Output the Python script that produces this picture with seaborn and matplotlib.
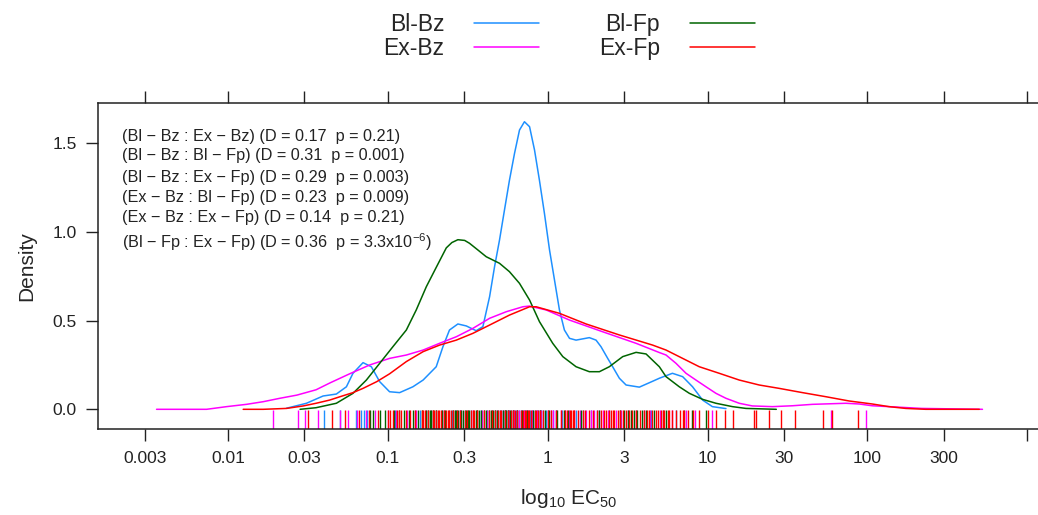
import numpy as np
import pandas as pd
import seaborn as sns
import matplotlib.pyplot as plt

sns.set_style("ticks")
plt.rcParams["font.family"] = ["Liberation Sans", "DejaVu Sans"]
plt.rcParams["mathtext.fontset"] = "custom"
plt.rcParams["mathtext.rm"] = "Liberation Sans"
plt.rcParams["mathtext.it"] = "Liberation Sans"

groups = ["Bl-Bz", "Ex-Bz", "Bl-Fp", "Ex-Fp"]
colors = {"Bl-Bz": "#1E90FF", "Ex-Bz": "#FF00FF", "Bl-Fp": "#006400", "Ex-Fp": "#FF0000"}

# density curves, x in log10 EC50
blbz_x = [-1.635, -1.51, -1.406, -1.323, -1.26, -1.219, -1.156, -1.104, -1.052, -0.99, -0.927, -0.844,
          -0.78, -0.698, -0.656, -0.615, -0.5625, -0.51, -0.448, -0.406, -0.364, -0.333, -0.302, -0.271,
          -0.24, -0.208, -0.177, -0.146, -0.114, -0.083, -0.052, -0.021, 0.011, 0.042, 0.073, 0.104,
          0.136, 0.177, 0.26, 0.302, 0.333, 0.375, 0.406, 0.448, 0.49, 0.573, 0.656, 0.698, 0.78,
          0.844, 0.906, 0.969, 1.03, 1.115]
blbz_y = [0.006, 0.034, 0.075, 0.086, 0.127, 0.203, 0.263, 0.24, 0.156, 0.099, 0.094, 0.127,
          0.165, 0.24, 0.353, 0.447, 0.481, 0.47, 0.443, 0.466, 0.635, 0.804, 0.954, 1.123,
          1.29, 1.443, 1.574, 1.621, 1.593, 1.462, 1.29, 1.105, 0.898, 0.729, 0.56, 0.447,
          0.40, 0.39, 0.404, 0.39, 0.353, 0.287, 0.24, 0.175, 0.137, 0.125, 0.158, 0.175, 0.203,
          0.184, 0.127, 0.052, 0.015, 0.004]

blfp_x = [-1.55, -1.45, -1.323, -1.219, -1.135, -1.052, -0.969, -0.885, -0.823, -0.76, -0.698, -0.635,
          -0.60, -0.5625, -0.52, -0.49, -0.44, -0.385, -0.302, -0.24, -0.177, -0.114, -0.052, 0.031,
          0.094, 0.177, 0.26, 0.323, 0.385, 0.469, 0.5525, 0.615, 0.698, 0.74, 0.823, 0.886, 0.969,
          1.0525, 1.156, 1.24, 1.43]
blfp_y = [0.0, 0.009, 0.034, 0.09, 0.165, 0.259, 0.353, 0.447, 0.56, 0.691, 0.80, 0.91,
          0.94, 0.956, 0.952, 0.936, 0.90, 0.86, 0.823, 0.776, 0.71, 0.616, 0.494, 0.372,
          0.297, 0.24, 0.212, 0.212, 0.24, 0.297, 0.321, 0.312, 0.24, 0.184, 0.127, 0.09, 0.056,
          0.034, 0.015, 0.005, 0.0]

exbz_x = [-2.448, -2.135, -2.01, -1.885, -1.78, -1.677, -1.57, -1.45, -1.36, -1.24, -1.114, -0.99,
          -0.885, -0.78, -0.677, -0.5725, -0.469, -0.364, -0.26, -0.156, -0.114, -0.01, 0.136, 0.344,
          0.5525, 0.698, 0.74, 0.8025, 0.865, 0.927, 0.99, 1.0525, 1.115, 1.198, 1.28, 1.406, 1.531,
          1.656, 1.865, 1.948, 2.03, 2.135, 2.34, 2.72]
exbz_y = [0.0, 0.0, 0.015, 0.028, 0.043, 0.062, 0.08, 0.11, 0.15, 0.2, 0.25, 0.287,
          0.306, 0.334, 0.372, 0.409, 0.456, 0.513, 0.55, 0.578, 0.582, 0.56, 0.503, 0.437,
          0.372, 0.32, 0.306, 0.259, 0.203, 0.165, 0.127, 0.09, 0.062, 0.034, 0.019, 0.015, 0.02,
          0.028, 0.034, 0.03, 0.02, 0.015, 0.005, 0.0]

exfp_x = [-1.906, -1.78, -1.635, -1.53, -1.45, -1.365, -1.30, -1.219, -1.156, -1.07, -0.99, -0.885,
          -0.78, -0.677, -0.5725, -0.469, -0.364, -0.24, -0.114, -0.0725, 0.073, 0.24, 0.448, 0.656,
          0.74, 0.844, 0.948, 1.073, 1.198, 1.323, 1.448, 1.594, 1.74, 1.885, 2.03, 2.135, 2.24,
          2.365, 2.70]
exfp_y = [0.0, 0.0, 0.005, 0.019, 0.034, 0.052, 0.071, 0.094, 0.118, 0.156, 0.2, 0.269,
          0.325, 0.362, 0.39, 0.428, 0.475, 0.531, 0.578, 0.578, 0.541, 0.481, 0.419, 0.362,
          0.334, 0.287, 0.24, 0.203, 0.165, 0.137, 0.118, 0.094, 0.071, 0.047, 0.03, 0.015, 0.005,
          0.0, 0.0]

# rug values (log10 EC50)
blbz_rug = [-1.40, -1.30, -1.202, -1.17, -1.15, -1.13, -0.958, -0.80, -0.70, -0.66, -0.62, -0.60,
            -0.566, -0.55, -0.52, -0.48, -0.416, -0.38, -0.35, -0.33, -0.31, -0.30, -0.29, -0.28,
            -0.27, -0.26, -0.25, -0.24, -0.23, -0.22, -0.21, -0.20, -0.19, -0.18, -0.17, -0.16, -0.15,
            -0.14, -0.13, -0.12, -0.11, -0.10, -0.09, -0.08, -0.07, -0.06, -0.05, -0.04, -0.03, -0.01,
            0.0, 0.03, 0.052, 0.09, 0.177, 0.22, 0.27, 0.31, 0.385, 0.646, 0.72, 0.80, 0.85]
exbz_rug = [-1.719, -1.5625, -1.521, -1.4375, -1.302, -1.25, -1.191, -1.135, -1.08, -1.00, -0.95, -0.88,
            -0.83, -0.8225, -0.76, -0.73, -0.65, -0.58, -0.55, -0.54, -0.50, -0.47, -0.445, -0.41,
            -0.38, -0.35, -0.32, -0.28, -0.24, -0.21, -0.195, -0.18, -0.15, -0.13, -0.10, -0.07,
            -0.04, 0.0, 0.02, 0.03, 0.05, 0.08, 0.11, 0.13, 0.167, 0.20, 0.24, 0.27, 0.29, 0.32, 0.344,
            0.375, 0.43, 0.46, 0.50, 0.55, 0.60, 0.64, 0.70, 0.78, 0.865, 0.92, 1.03, 1.77, 1.99]
blfp_rug = [-1.114, -1.094, -1.052, -1.021, -0.96, -0.93, -0.902, -0.87, -0.844, -0.81, -0.79, -0.765,
            -0.75, -0.74, -0.73, -0.72, -0.70, -0.66, -0.645, -0.59, -0.58, -0.572, -0.56, -0.54,
            -0.53, -0.51, -0.50, -0.49, -0.452, -0.44, -0.43, -0.42, -0.40, -0.385, -0.37, -0.355,
            -0.345, -0.333, -0.32, -0.28, -0.27, -0.26, -0.25, -0.235, -0.22, -0.19, -0.16, -0.13,
            -0.09, -0.05, -0.02, 0.01, 0.06, 0.10, 0.125, 0.21, 0.323, 0.45, 0.48, 0.50, 0.52, 0.54,
            0.56, 0.59, 0.615, 0.667, 0.74, 0.90, 0.99]
exfp_rug = [-1.50, -1.35, -1.27, -1.18, -1.12, -1.06, -1.00, -0.985, -0.97, -0.944, -0.93, -0.916,
            -0.885, -0.86, -0.83, -0.79, -0.78, -0.77, -0.75, -0.72, -0.71, -0.70, -0.69, -0.68,
            -0.67, -0.65, -0.635, -0.625, -0.615, -0.605, -0.59, -0.57, -0.55, -0.52, -0.505, -0.48,
            -0.47, -0.462, -0.44, -0.40, -0.37, -0.35, -0.33, -0.312, -0.30, -0.29, -0.27, -0.25,
            -0.229, -0.215, -0.208, -0.19, -0.166, -0.155, -0.145, -0.135, -0.125, -0.115, -0.105,
            -0.083, -0.075, -0.062, -0.05, -0.03, 0.0, 0.02, 0.05, 0.084, 0.11, 0.12, 0.136, 0.146,
            0.155, 0.167, 0.19, 0.22, 0.235, 0.26, 0.28, 0.31, 0.33, 0.35, 0.365, 0.38, 0.396, 0.41,
            0.417, 0.4375, 0.45, 0.47, 0.49, 0.51, 0.53, 0.55, 0.58, 0.60, 0.62, 0.635, 0.65, 0.68,
            0.69, 0.71, 0.72, 0.73, 0.75, 0.76, 0.78, 0.80, 0.83, 0.845, 0.855, 0.88, 0.91, 0.948,
            1.0, 1.05, 1.11, 1.156, 1.29, 1.30, 1.385, 1.46, 1.55, 1.725, 1.78, 1.94]

tick_vals = [0.003, 0.01, 0.03, 0.1, 0.3, 1, 3, 10, 30, 100, 300, 1000]
tick_labels = ["0.003", "0.01", "0.03", "0.1", "0.3", "1", "3", "10", "30", "100", "300", ""]

ks_lines = [
    "(Bl \u2212 Bz : Ex \u2212 Bz) (D = 0.17  p = 0.21)",
    "(Bl \u2212 Bz : Bl \u2212 Fp) (D = 0.31  p = 0.001)",
    "(Bl \u2212 Bz : Ex \u2212 Fp) (D = 0.29  p = 0.003)",
    "(Ex \u2212 Bz : Bl \u2212 Fp) (D = 0.23  p = 0.009)",
    "(Ex \u2212 Bz : Ex \u2212 Fp) (D = 0.14  p = 0.21)",
    "(Bl \u2212 Fp : Ex \u2212 Fp) (D = 0.36  p = 3.3x10$^{\u22126}$)",
]

curves = pd.concat([
    pd.DataFrame({"x": blbz_x, "y": blbz_y, "g": "Bl-Bz"}),
    pd.DataFrame({"x": blfp_x, "y": blfp_y, "g": "Bl-Fp"}),
    pd.DataFrame({"x": exbz_x, "y": exbz_y, "g": "Ex-Bz"}),
    pd.DataFrame({"x": exfp_x, "y": exfp_y, "g": "Ex-Fp"}),
])
rugs = pd.concat([
    pd.DataFrame({"x": blbz_rug, "g": "Bl-Bz"}),
    pd.DataFrame({"x": exbz_rug, "g": "Ex-Bz"}),
    pd.DataFrame({"x": blfp_rug, "g": "Bl-Fp"}),
    pd.DataFrame({"x": exfp_rug, "g": "Ex-Fp"}),
])

W, H = 1038, 515
fig = plt.figure(figsize=(W / 100, H / 100), dpi=100)
ax = fig.add_axes([98.3 / W, 1 - 429.3 / H, (1040 - 98.3) / W, 326.6 / H])

sns.rugplot(data=rugs, x="x", hue="g", palette=colors, height=0.06, lw=1.4, legend=False, ax=ax)
sns.lineplot(data=curves, x="x", y="y", hue="g", hue_order=groups, palette=colors,
             estimator=None, sort=True, lw=1.1, ax=ax)

ax.set_xlim(-2.8125, 3.08)
ax.set_ylim(-0.1127, 1.7283)
ax.set_xticks(np.log10(tick_vals))
ax.set_xticklabels(tick_labels)
ax.set_yticks([0.0, 0.5, 1.0, 1.5])
ax.set_yticklabels(["0.0", "0.5", "1.0", "1.5"])
ax.tick_params(direction="out", length=8.4, width=1, labelsize=12.5, pad=7,
               top=True, right=True, labeltop=False, labelright=False, colors="#222222")
for s in ax.spines.values():
    s.set_linewidth(1.1)
    s.set_color("#222222")
ax.set_xlabel("log$_{10}$ EC$_{50}$", fontsize=15, labelpad=15)
ax.set_ylabel("Density", fontsize=15, labelpad=12)

for t, py in zip(ks_lines, [136.7, 155.7, 177.3, 197.3, 217.7, 241.7]):
    ax.text((122.3 - 98.3) / 940.7, (429.3 - py) / 326.6, t, transform=ax.transAxes,
            fontsize=11.7, va="center", ha="left", color="#222222")

sns.move_legend(ax, "upper center", bbox_to_anchor=(0.5, 1.338), ncol=2, markerfirst=False,
                frameon=False, title=None, fontsize=16.5, handlelength=2.84, handletextpad=1.3,
                columnspacing=2.6, labelspacing=0.05)

fig.savefig("out.png", dpi=100)
